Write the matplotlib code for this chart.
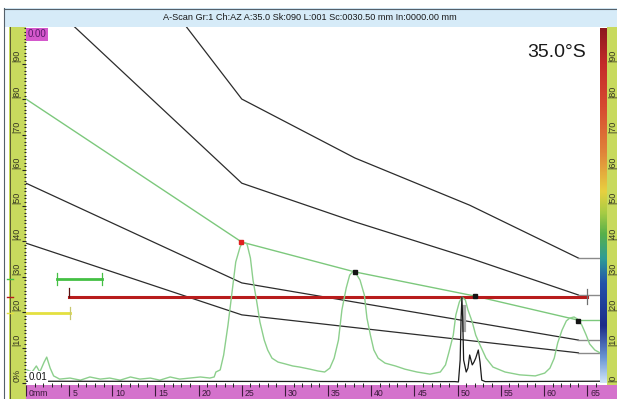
import numpy as np
import matplotlib.pyplot as plt
import matplotlib.transforms as mtransforms
from matplotlib.colors import LinearSegmentedColormap
from matplotlib.patches import Rectangle

plt.rcParams['font.family'] = ['Liberation Sans', 'DejaVu Sans']

W, H = 617, 399

# A-scan signal (sound path in mm, amplitude in % screen height)
signal_mm = [0.1, 0.7, 1.2, 1.6, 2.1, 2.4, 2.8, 3.2, 3.9, 5.1,
             6.3, 7.4, 8.6, 9.7, 10.9, 12.1, 13.2, 14.4, 15.5, 16.7,
             17.8, 19.0, 20.2, 21.3, 21.8, 22.0, 22.5, 22.9, 23.4, 23.9,
             24.3, 24.8, 25.1, 25.6, 26.0, 26.3, 26.7, 27.1, 27.6, 28.0,
             28.5, 29.2, 30.0, 30.9, 31.7, 32.9, 33.8, 34.6, 35.2, 35.7,
             36.2, 36.6, 37.1, 37.5, 37.9, 38.2, 38.7, 39.2, 39.5, 39.9,
             40.3, 40.8, 41.6, 42.8, 43.9, 45.3, 46.8, 48.0, 48.6, 49.0,
             49.5, 49.8, 50.2, 50.5, 50.9, 51.2, 51.7, 52.1, 52.6, 53.3,
             54.1, 55.5, 57.2, 59.0, 60.1, 60.7, 61.2, 61.6, 62.1, 62.6,
             63.0, 63.5, 63.9, 64.4, 64.9, 65.3, 65.9, 66.5]
signal_pct = [3.7, 3.1, 4.8, 3.1, 5.9, 7.3, 4.2, 2.0, 1.1, 1.4,
              0.8, 1.7, 1.1, 1.4, 0.8, 1.7, 1.1, 1.4, 0.8, 1.7,
              1.1, 1.4, 1.7, 1.4, 1.7, 3.1, 3.7, 7.9, 16.3, 26.2,
              34.1, 38.3, 39.7, 39.2, 35.2, 29.0, 23.4, 17.2, 12.1, 9.3,
              7.0, 5.9, 5.4, 4.8, 4.5, 3.9, 3.4, 3.1, 4.2, 7.0,
              12.1, 20.6, 26.8, 30.4, 31.5, 31.0, 29.0, 24.8, 18.3, 13.5,
              9.3, 7.0, 5.6, 4.8, 3.9, 3.1, 2.5, 3.1, 5.1, 8.7,
              13.5, 19.2, 22.8, 24.2, 23.4, 20.6, 17.2, 13.5, 10.7, 7.0,
              4.5, 3.1, 2.3, 2.0, 2.8, 4.2, 7.0, 11.3, 14.9, 17.5,
              18.3, 18.6, 18.0, 16.3, 13.5, 11.0, 9.3, 8.5]

# black trace (reference echo)
black_mm = [0.0, 49.7, 50.1, 50.3, 50.4, 50.5, 50.6, 50.7, 51.0, 51.2,
            51.4, 51.7, 51.9, 52.1, 52.4, 52.6, 52.8, 53.2, 66.5]
black_pct = [0.5, 0.4, 0.3, 6.5, 17.7, 24.2, 17.7, 6.5, 3.1, 4.2,
             7.9, 5.1, 5.9, 7.0, 9.3, 5.9, 0.8, 0.4, 0.5]

# TCG / DAC curves
curve_a_mm = [16.2, 25.0, 38.1, 51.4, 64.0]
curve_a_pct = [107.9, 80.0, 63.4, 50.1, 35.2]
curve_b_mm = [2.3, 25.0, 38.1, 51.4, 64.0]
curve_b_pct = [107.9, 56.3, 45.4, 35.2, 24.8]
curve_c_mm = [0.0, 25.0, 64.0]
curve_c_pct = [56.3, 28.2, 12.1]
curve_d_mm = [0.0, 25.0, 64.0]
curve_d_pct = [39.4, 19.2, 8.5]
dac_mm = [0.0, 25.0, 38.1, 52.0, 64.0]
dac_pct = [80.0, 39.7, 31.3, 24.5, 17.7]
curve_end_mm = 64.0
range_end_mm = 66.5

# DAC reference points
ref_point_mm, ref_point_pct = 24.9, 39.7
dac_points_mm = [38.1, 52.0, 64.0]
dac_points_pct = [31.3, 24.5, 17.5]

# gates: start, end, level
gate_a = (5.0, 65.0, 24.2)
gate_b = (3.6, 8.8, 29.3)
gate_i = (0.0, 5.1, 19.7)

x_ticks = list(range(0, 66, 5))
y_ticks = list(range(0, 91, 10))

title = "A-Scan Gr:1 Ch:AZ A:35.0 Sk:090 L:001 Sc:0030.50 mm In:0000.00 mm"
angle_label = "35.0\u00b0S"

ruler_col = '#c8da5e'
magenta = '#d472cc'

fig = plt.figure(figsize=(W / 100, H / 100), dpi=100)

# background / frame decorations in pixel coordinates
bg = fig.add_axes([0, 0, 1, 1], zorder=0)
bg.axis('off')

bg.add_patch(Rectangle((4, 8), W - 4, 19, facecolor='#d6ebf8', edgecolor='none'))
bg.plot([4, W], [8.5, 8.5], color='#55606a', lw=0.8)
bg.plot([4, 4], [8, H], color='#55606a', lw=0.8)
bg.text(310, 17.5, title, ha='center', va='center', fontsize=6.6, color='#1a1a1a')

# left ruler
bg.add_patch(Rectangle((9, 27), 17, H - 27, facecolor=ruler_col, edgecolor='none'))
bg.plot([9.5, 9.5], [27, H], color='#5a5a30', lw=0.7)
# bottom strip
bg.add_patch(Rectangle((26, 385), 574, 14, facecolor=magenta, edgecolor='none'))
# right colour bar and ruler
cmap = LinearSegmentedColormap.from_list('amp', [
    (0.0, '#8c1a1e'), (0.1, '#c42a2a'), (0.22, '#d64a30'), (0.35, '#e0843a'),
    (0.46, '#e8d040'), (0.52, '#a8cc44'), (0.58, '#58b04a'), (0.65, '#2e9c96'),
    (0.72, '#2452aa'), (0.84, '#1c2c88'), (0.93, '#6a96d4'), (1.0, '#d0e4f8')])
bg.imshow(np.linspace(0, 1, 256).reshape(-1, 1), extent=[600, 607, 383, 28],
          aspect='auto', cmap=cmap, origin='upper')
bg.add_patch(Rectangle((607, 27), 10, 358, facecolor=ruler_col, edgecolor='none'))
bg.add_patch(Rectangle((600, 385), 17, 14, facecolor=magenta, edgecolor='none'))
bg.set_xlim(0, W)
bg.set_ylim(H, 0)

# main A-scan axes
ax = fig.add_axes([26 / W, (H - 385) / H, (600 - 26) / W, (385 - 27) / H], zorder=1)
ax.set_facecolor('white')
ax.set_xlim(0, range_end_mm)
ax.set_ylim(-0.56, 100.3)
for s in ax.spines.values():
    s.set_visible(False)

ax.set_xticks(x_ticks)
ax.set_xticks(np.arange(0, 67, 1), minor=True)
ax.set_yticks(y_ticks)
ax.set_yticks(np.arange(0, 101, 1), minor=True)
ax.tick_params(axis='x', which='major', direction='out', length=8, width=0.8,
               color='#3a1a3a', labelbottom=False)
ax.tick_params(axis='x', which='minor', direction='inout', length=3, width=0.7,
               color='#222222')
ax.tick_params(axis='y', which='major', direction='out', length=3, width=0.8,
               color='#222222', labelleft=False)
ax.tick_params(axis='y', which='minor', direction='out', length=1.5, width=0.8,
               color='#222222')

# ruler labels
ytrans = mtransforms.blended_transform_factory(bg.transData, ax.transData)
for v in y_ticks:
    lab = '0%' if v == 0 else f'|{v}'
    ax.text(17, v + 0.3, lab, transform=ytrans, rotation=90, ha='center',
            va='bottom', fontsize=6.5, color='#333320', clip_on=False)
    ax.text(613, v + 0.3, f'|{v}', transform=ytrans, rotation=90, ha='center',
            va='bottom', fontsize=6.5, color='#333320', clip_on=False)
xtrans = mtransforms.blended_transform_factory(ax.transData, bg.transData)
for v in x_ticks:
    lab = '0mm' if v == 0 else f'{v}'
    ax.text(v + 0.35, 393, lab, transform=xtrans, ha='left', va='center',
            fontsize=6.3, color='#3a1a3a', clip_on=False)

# curves
black = '#2c2c2c'
grey = '#8a8a8a'
for cx, cy in [(curve_a_mm, curve_a_pct), (curve_b_mm, curve_b_pct),
               (curve_c_mm, curve_c_pct), (curve_d_mm, curve_d_pct)]:
    ax.plot(cx, cy, color=black, lw=0.9, zorder=3)
    ax.plot([curve_end_mm, range_end_mm], [cy[-1], cy[-1]], color=grey, lw=1.0, zorder=3)
ax.plot(dac_mm, dac_pct, color='#7cc87c', lw=1.0, zorder=3)
ax.plot([curve_end_mm, range_end_mm], [dac_pct[-1], dac_pct[-1]], color='#7cc87c',
        lw=1.0, zorder=3)

# gates
ax.plot([gate_a[0], gate_a[1]], [gate_a[2], gate_a[2]], color='#b81c1c', lw=2.2, zorder=4)
ax.plot([gate_a[0], gate_a[0]], [gate_a[2], gate_a[2] + 2.6], color='#5a1010', lw=0.9, zorder=4)
ax.plot([gate_a[1], gate_a[1]], [gate_a[2] - 2.0, gate_a[2] + 2.4], color='#707070', lw=0.9, zorder=4)
ax.plot([gate_b[0], gate_b[1]], [gate_b[2], gate_b[2]], color='#44c044', lw=2.0, zorder=4)
for gx in gate_b[:2]:
    ax.plot([gx, gx], [gate_b[2] - 1.6, gate_b[2] + 1.6], color='#44c044', lw=0.9, zorder=4)
ax.plot([gate_i[0], gate_i[1]], [gate_i[2], gate_i[2]], color='#e4e040', lw=2.0, zorder=4)
ax.plot([gate_i[1], gate_i[1]], [gate_i[2] - 1.8, gate_i[2] + 1.8], color='#c8c870', lw=0.9, zorder=4)

# ruler gate markers
for lvl, col in [(gate_b[2], '#44c044'), (gate_a[2], '#b81c1c'), (gate_i[2], '#e4e040')]:
    ax.plot([7, 13], [lvl, lvl], transform=ytrans, color=col, lw=1.0, clip_on=False, zorder=5)

# signals
ax.plot(signal_mm, signal_pct, color='#8ccf8c', lw=1.0, zorder=5)
ax.plot([50.75, 50.75], [14.9, 21.4], color='#a8a8a8', lw=3.0, zorder=5)
ax.plot(black_mm, black_pct, color='#1a1a1a', lw=0.9, zorder=6)

# peak markers
ax.plot(ref_point_mm, ref_point_pct, 's', color='#e02020', ms=3.5, zorder=7)
ax.plot(dac_points_mm, dac_points_pct, 's', color='#151515', ms=3.5, zorder=7)

# labels inside the plot
ax.text(0.2, 99.6, '0.00', ha='left', va='top', fontsize=7, color='#5a1a6a', zorder=8,
        bbox=dict(boxstyle='square,pad=0.15', facecolor='#d458cc', edgecolor='none'))
ax.text(0.3, 0.4, '0.01', ha='left', va='bottom', fontsize=7, color='#111111', zorder=8,
        bbox=dict(boxstyle='square,pad=0.1', facecolor='white', edgecolor='none'))
ax.text(0.975, 0.93, angle_label, transform=ax.transAxes, ha='right', va='center',
        fontsize=14, color='#1a1a1a', zorder=8)

fig.savefig('out.png', dpi=100)
